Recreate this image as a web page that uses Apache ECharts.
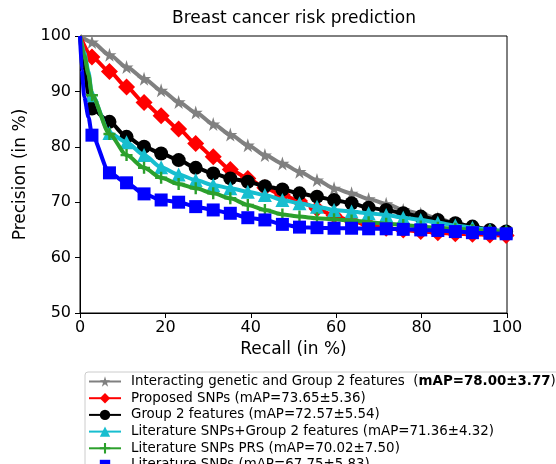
<!DOCTYPE html>
<html>
<head>
<meta charset="utf-8">
<script src="https://cdn.jsdelivr.net/npm/echarts@6/dist/echarts.min.js"></script>
<style>html,body{margin:0;padding:0;background:#fff}#c{width:556px;height:464px}</style>
</head>
<body>
<div id="c"></div>
<script>
// Recall positions of markers (%)
const recall = [2.8, 6.9, 10.9, 15.0, 19.0, 23.1, 27.1, 31.2, 35.2, 39.3, 43.3, 47.4, 51.4, 55.5, 59.5, 63.6, 67.6, 71.7, 75.7, 79.8, 83.8, 87.9, 91.9, 96.0, 99.8];
const xTicks = [0, 20, 40, 60, 80, 100];
const yTicks = [50, 60, 70, 80, 90, 100];

const seriesNames = [
  'Interacting genetic and Group 2 features',
  'Proposed SNPs',
  'Group 2 features',
  'Literature SNPs+Group 2 features',
  'Literature SNPs PRS',
  'Literature SNPs'
];
const mapText = ['78.00±3.77', '73.65±5.36', '72.57±5.54', '71.36±4.32', '70.02±7.50', '67.75±5.83'];

// Precision (%) at each marker
const gray  = [98.9, 96.6, 94.4, 92.3, 90.2, 88.1, 86.2, 84.1, 82.2, 80.3, 78.5, 77.0, 75.5, 74.0, 72.5, 71.6, 70.6, 69.7, 68.6, 67.9, 67.1, 66.2, 65.6, 65.0, 64.4];
const red   = [96.2, 93.6, 90.8, 88.0, 85.6, 83.2, 80.6, 78.2, 75.9, 74.3, 72.6, 71.3, 70.2, 68.8, 67.6, 66.6, 65.9, 65.3, 65.0, 64.7, 64.5, 64.3, 64.2, 64.1, 64.0];
const black = [86.9, 84.5, 81.8, 80.0, 78.8, 77.6, 76.2, 75.2, 74.3, 73.7, 72.9, 72.3, 71.6, 71.0, 70.4, 69.8, 69.0, 68.6, 68.0, 67.4, 66.8, 66.2, 65.6, 65.0, 64.7];
const cyan  = [89.3, 82.5, 80.8, 78.5, 76.3, 75.0, 74.0, 73.1, 72.5, 71.9, 71.3, 70.4, 69.8, 69.2, 68.6, 68.3, 68.0, 67.7, 67.2, 66.8, 66.3, 65.8, 65.4, 65.0, 64.7];
const green = [89.3, 82.3, 78.5, 76.2, 74.4, 73.3, 72.5, 71.6, 70.7, 69.5, 68.6, 67.8, 67.4, 67.1, 66.9, 66.7, 66.4, 66.1, 65.9, 65.6, 65.4, 65.2, 65.0, 64.8, 64.6];
const blue  = [82.1, 75.3, 73.5, 71.5, 70.4, 70.0, 69.2, 68.6, 68.0, 67.2, 66.8, 66.0, 65.5, 65.4, 65.3, 65.3, 65.2, 65.2, 65.1, 65.0, 64.9, 64.7, 64.5, 64.4, 64.3];

// Curve starts (no marker)
const grayHead  = [[0, 100]];
const redHead   = [[0, 100]];
const blackHead = [[0, 100], [1, 94], [2, 89.5]];
const cyanHead  = [[0, 100], [1, 97], [2, 93.5]];
const greenHead = [[0, 100], [1, 96.5], [2, 93]];
const blueHead  = [[0, 100], [0.4, 94], [1, 89], [2, 85.3]];

const STAR = 'path://M50,0 L61,35 L98,35 L68,57 L79,91 L50,70 L21,91 L32,57 L2,35 L39,35 Z';
const PLUS = 'path://M4,0 H6 V4 H10 V6 H6 V10 H4 V6 H0 V4 H4 Z';

const styles = [
  {vals: gray,  head: grayHead,  color: '#808080', symbol: STAR, size: 14},
  {vals: red,   head: redHead,   color: '#ff0000', symbol: 'diamond', size: 17},
  {vals: black, head: blackHead, color: '#000000', symbol: 'circle', size: 14},
  {vals: cyan,  head: cyanHead,  color: '#17becf', symbol: 'triangle', size: 14},
  {vals: green, head: greenHead, color: '#2ca02c', symbol: PLUS, size: 12},
  {vals: blue,  head: blueHead,  color: '#0000ff', symbol: 'rect', size: 13}
];

const series = styles.map((s, i) => {
  const data = s.head.map(p => ({value: p, symbol: 'none'}))
    .concat(s.vals.map((v, k) => [recall[k], v]));
  return {
    name: seriesNames[i],
    type: 'line',
    data: data,
    smooth: 0.25,
    smoothMonotone: 'x',
    symbol: s.symbol,
    symbolSize: s.size,
    showAllSymbol: true,
    color: s.color,
    lineStyle: {width: 4, color: s.color},
    itemStyle: {color: s.color, borderWidth: 0},
    z: 2 + i,
    animation: false
  };
});

const chart = echarts.init(document.getElementById('c'), null, {renderer: 'canvas'});
const FONT = 'DejaVu Sans';
chart.setOption({
  backgroundColor: '#ffffff',
  animation: false,
  textStyle: {fontFamily: FONT},
  title: {
    text: 'Breast cancer risk prediction',
    left: 172, top: 10, padding: 0,
    textStyle: {fontFamily: FONT, fontSize: 17, fontWeight: 'normal', color: '#000'}
  },
  grid: {
    left: 80, top: 36, width: 427, height: 277,
    show: true, borderColor: '#000', borderWidth: 1, backgroundColor: 'transparent'
  },
  xAxis: {
    type: 'value', min: xTicks[0], max: xTicks[xTicks.length - 1], interval: 20,
    name: 'Recall (in %)', nameLocation: 'middle', nameGap: 28,
    nameTextStyle: {fontFamily: FONT, fontSize: 17, color: '#000'},
    axisLine: {show: true, lineStyle: {color: '#000', width: 1}},
    axisTick: {show: true, length: 5, lineStyle: {color: '#000'}},
    axisLabel: {fontFamily: FONT, fontSize: 16, color: '#000', margin: 7},
    splitLine: {show: false}
  },
  yAxis: {
    type: 'value', min: yTicks[0], max: yTicks[yTicks.length - 1], interval: 10,
    name: 'Precision (in %)', nameLocation: 'middle', nameGap: 47,
    nameTextStyle: {fontFamily: FONT, fontSize: 17, color: '#000'},
    axisLine: {show: true, lineStyle: {color: '#000', width: 1}},
    axisTick: {show: true, length: 5, lineStyle: {color: '#000'}},
    axisLabel: {fontFamily: FONT, fontSize: 16, color: '#000', margin: 9},
    splitLine: {show: false}
  },
  legend: {
    orient: 'vertical',
    left: 85, top: 372,
    width: 700, height: 140,
    padding: [3, 4, 3, 3],
    itemWidth: 32, itemHeight: 13, itemGap: 3.7,
    backgroundColor: '#fff',
    borderColor: '#cccccc', borderWidth: 1, borderRadius: 3,
    data: seriesNames,
    formatter: function (name) {
      const i = seriesNames.indexOf(name);
      if (i === 0) return name + '  ({b|mAP=' + mapText[i] + '})';
      return name + ' (mAP=' + mapText[i] + ')';
    },
    textStyle: {
      fontFamily: FONT, fontSize: 13.4, color: '#000', padding: [0, 0, 0, 5],
      rich: {b: {fontFamily: FONT, fontSize: 13.4, fontWeight: 'bold', color: '#000'}}
    }
  },
  series: series
});
</script>
</body>
</html>
